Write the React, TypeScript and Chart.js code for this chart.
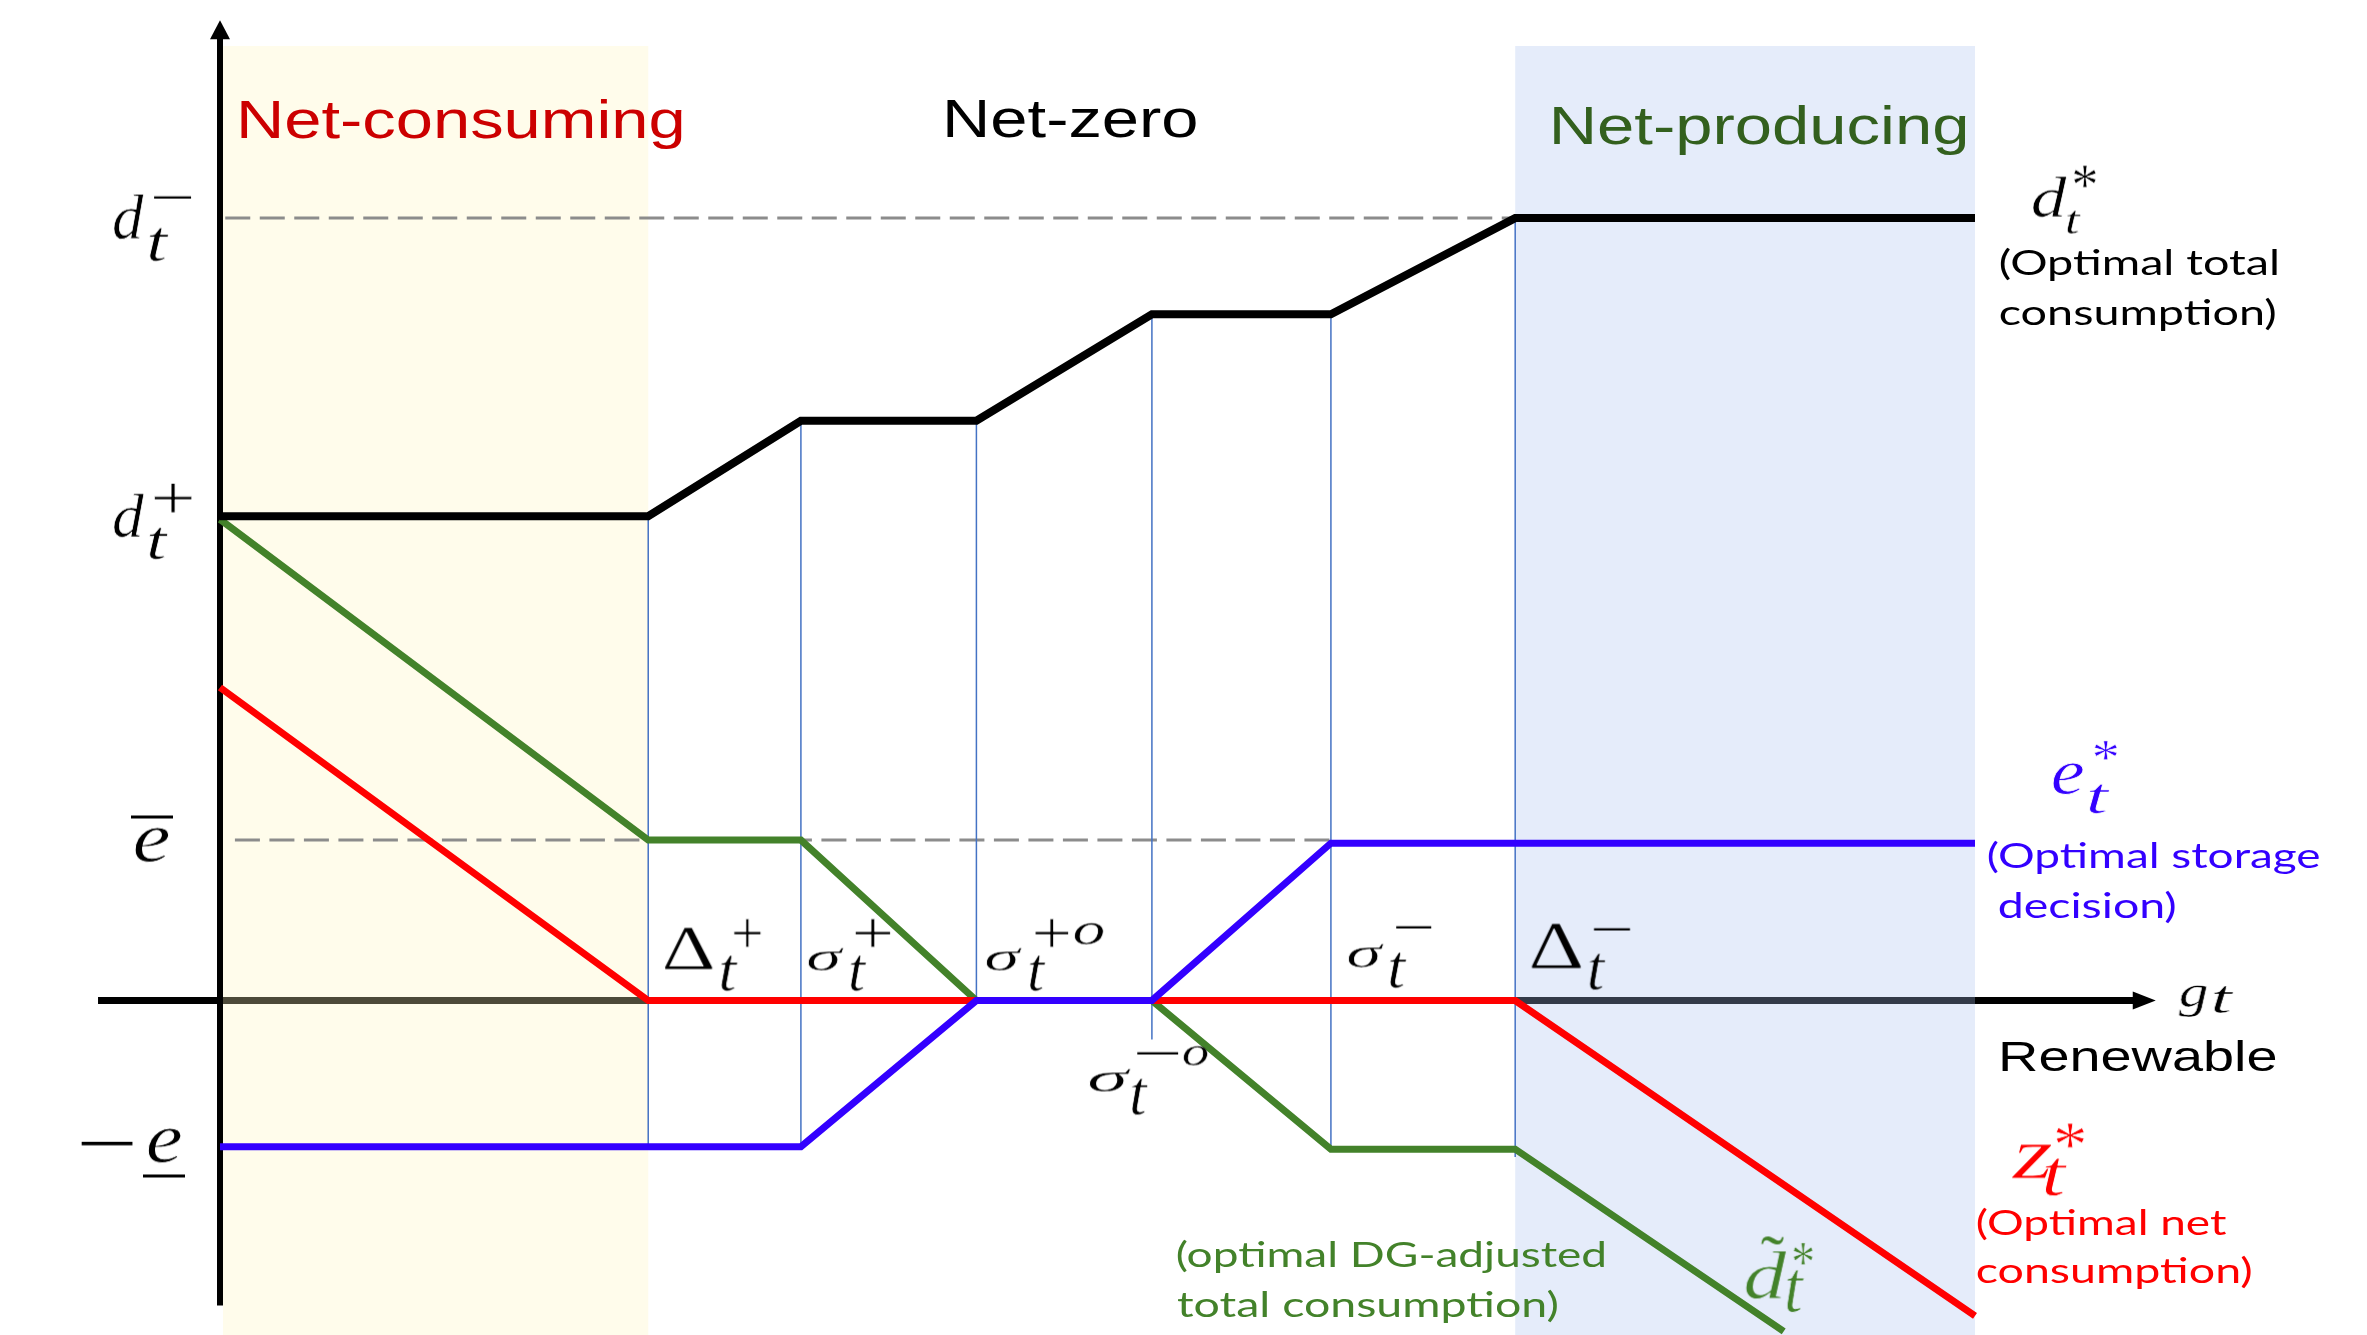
import { useEffect, useRef } from 'react';
import { Chart, registerables } from 'chart.js';

Chart.register(...registerables);

const WIDTH = 2367;
const HEIGHT = 1335;

// Renewable output g_t at each regime threshold
const renewable = [0, 24.4, 33.1, 43.1, 53.1, 63.3, 73.8, 100];
// d_t^*: optimal total consumption
const totalConsumption = [61.9, 61.9, 74.1, 74.1, 87.7, 87.7, 100, 100];
// e_t^*: optimal storage decision
const storageDecision = [-18.7, -18.7, -18.7, 0, 0, 20.1, 20.1, 20.1];
// z_t^*: optimal net consumption
const netConsumption = [40, 0, 0, 0, 0, 0, 0, -40.3];
// d~_t^*: optimal DG-adjusted total consumption (leaves the frame at the bottom)
const dgRenewable = [0, 24.4, 33.1, 43.1, 53.1, 63.3, 73.8, 89.1];
const dgAdjusted = [61.5, 20.5, 20.5, 0, 0, -19, -19, -42.3];

// Consumption and storage bounds
const D_MINUS = 100;
const D_PLUS = 61.9;
const E_BAR = 20.5;
const E_UNDER = -18.7;

// Threshold drop lines: Δ+, σ+, σ+o, σ-o, σ-, Δ-
const thresholdX = [24.4, 33.1, 43.1, 53.1, 63.3, 73.8];
const thresholdTop = [61.9, 74.1, 74.1, 87.7, 87.7, 100];
const thresholdBottom = [-18.9, -18.9, 0, -5, -19.1, -20];

// Dashed bound lines, [from, to] along g_t
const dMinusSpan = [0.3, 73.8];
const eBarSpan = [0.85, 63.3];

// Shaded regimes, [from, to] along g_t
const consumingSpan = [0.17, 24.4];
const producingSpan = [73.8, 100];

const X_RANGE = [0, 100];
const Y_RANGE = [-42.5, 122];
const X_AXIS_SPAN = [-6.95, 110.3];
const Y_AXIS_SPAN = [-39, 125.3];

const BLACK = '#000000';
const RED = '#FF0000';
const BLUE = '#3300FF';
const GREEN = '#43822A';
const GUIDE = '#4472C4';
const DASH = '#8C8C8C';
const TITLE_RED = '#CC0000';
const TITLE_GREEN = '#33601E';

const MATH = '"Liberation Serif", "DejaVu Serif", serif';
const SANS = '"Liberation Sans", Arial, sans-serif';
const HUMAN = 'Lato, "Open Sans", sans-serif';

type Glyph =
  | { t: string; f: 'i' | 'r'; box: number[]; size?: number }
  | { bar: number[] };
type TextLine = { t: string; left: number; base: number; width: number; size: number; fam: string };
type Label = { x: number; y: number; color: string; glyphs?: Glyph[]; lines?: TextLine[] };

// Bound labels on the vertical axis
const axisLabels: Label[] = [
  {
    x: 0, y: D_MINUS, color: BLACK, glyphs: [
      { t: 'd', f: 'i', box: [-108, -25, -75, 20] },
      { t: 't', f: 'i', box: [-72, 9, -50, 42] },
      { t: '−', f: 'r', size: 46, box: [-67, -21, -27, -21] },
    ],
  },
  {
    x: 0, y: D_PLUS, color: BLACK, glyphs: [
      { t: 'd', f: 'i', box: [-108, -23, -75, 21] },
      { t: 't', f: 'i', box: [-72, 11, -50, 43] },
      { t: '+', f: 'r', box: [-67, -34, -27, -3] },
    ],
  },
  {
    x: 0, y: E_BAR, color: BLACK, glyphs: [
      { t: 'e', f: 'i', box: [-86, -13, -50, 22] },
      { bar: [-89, -24.6, -47, -21.6] },
    ],
  },
  {
    x: 0, y: E_UNDER, color: BLACK, glyphs: [
      { t: '−', f: 'r', size: 70, box: [-140, -3, -85, -3] },
      { t: 'e', f: 'i', box: [-73, -19, -38, 16] },
      { bar: [-77, 27.7, -35, 30.7] },
    ],
  },
];

// Threshold names along the g_t axis
const thresholdLabels: Label[] = [
  {
    x: thresholdX[0], y: 0, color: BLACK, glyphs: [
      { t: 'Δ', f: 'r', box: [15, -73.5, 66, -30.5] },
      { t: 't', f: 'i', box: [71, -45.5, 91, -9.5] },
      { t: '+', f: 'r', box: [84, -82.5, 114, -53.5] },
    ],
  },
  {
    x: thresholdX[1], y: 0, color: BLACK, glyphs: [
      { t: 'σ', f: 'i', box: [6, -53.5, 44, -30.5] },
      { t: 't', f: 'i', box: [48, -45.5, 67, -9.5] },
      { t: '+', f: 'r', box: [52, -82.5, 91, -53.5] },
    ],
  },
  {
    x: thresholdX[2], y: 0, color: BLACK, glyphs: [
      { t: 'σ', f: 'i', box: [8.6, -53.5, 46.6, -30.5] },
      { t: 't', f: 'i', box: [51.6, -45.5, 70.6, -9.5] },
      { t: '+', f: 'r', box: [56.6, -82.5, 93.6, -53.5] },
      { t: 'o', f: 'i', box: [96.6, -78.5, 128.6, -55.5] },
    ],
  },
  {
    x: thresholdX[3], y: 0, color: BLACK, glyphs: [
      { t: 'σ', f: 'i', box: [-63.9, 67.5, -19.9, 90.5] },
      { t: 't', f: 'i', box: [-21.9, 77.5, -2.9, 114.5] },
      { t: '−', f: 'r', size: 46, box: [-15.9, 52.5, 28.1, 52.5] },
      { t: 'o', f: 'i', box: [30.1, 44.5, 57.1, 65.5] },
    ],
  },
  {
    x: thresholdX[4], y: 0, color: BLACK, glyphs: [
      { t: 'σ', f: 'i', box: [16.1, -57.5, 54.1, -33.5] },
      { t: 't', f: 'i', box: [57.1, -48.5, 77.1, -12.5] },
      { t: '−', f: 'r', size: 46, box: [64.1, -73.5, 102.1, -73.5] },
    ],
  },
  {
    x: thresholdX[5], y: 0, color: BLACK, glyphs: [
      { t: 'Δ', f: 'r', box: [14.5, -77.5, 67.5, -32.5] },
      { t: 't', f: 'i', box: [72.5, -47.5, 91.5, -10.5] },
      { t: '−', f: 'r', size: 46, box: [77.5, -71.5, 116.5, -71.5] },
    ],
  },
];

const last = (a: number[]) => a[a.length - 1];

// Series names next to the curves, the axis name and the regime titles
const seriesLabels: Label[] = [
  {
    x: last(renewable), y: last(totalConsumption), color: BLACK,
    glyphs: [
      { t: 'd', f: 'i', box: [56, -42, 93, -1] },
      { t: 't', f: 'i', box: [90, -8, 108, 16] },
      { t: '*', f: 'r', box: [97, -53, 122, -30] },
    ],
    lines: [
      { t: '(Optimal total', left: 25, base: 57, width: 277, size: 35, fam: HUMAN },
      { t: 'consumption)', left: 25, base: 107, width: 275, size: 35, fam: HUMAN },
    ],
  },
  {
    x: last(renewable), y: last(storageDecision), color: BLUE,
    glyphs: [
      { t: 'e', f: 'i', box: [76, -80.8, 110, -48.8] },
      { t: 't', f: 'i', box: [113, -59.8, 137, -29.8] },
      { t: '*', f: 'r', box: [118, -102.8, 144, -82.8] },
    ],
    lines: [
      { t: '(Optimal storage', left: 13, base: 25.2, width: 332, size: 35, fam: HUMAN },
      { t: 'decision)', left: 24, base: 75.2, width: 176, size: 35, fam: HUMAN },
    ],
  },
  {
    x: last(renewable), y: last(netConsumption), color: RED,
    glyphs: [
      { t: 'z', f: 'i', box: [35, -172, 78, -137] },
      { t: 't', f: 'i', box: [68, -158, 94, -120] },
      { t: '*', f: 'r', box: [80, -193, 111, -168] },
    ],
    lines: [
      { t: '(Optimal net', left: 2, base: -80.8, width: 250, size: 35, fam: HUMAN },
      { t: 'consumption)', left: 2, base: -32.8, width: 274, size: 35, fam: HUMAN },
    ],
  },
  {
    x: last(dgRenewable), y: last(dgAdjusted), color: GREEN,
    glyphs: [
      { t: 'd', f: 'i', box: [-39, -81.5, 4, -33.5] },
      { t: '˜', f: 'r', size: 64, box: [-24, -91, 1, -91] },
      { t: 't', f: 'i', box: [2, -62, 22, -18.5] },
      { t: '*', f: 'r', box: [8, -89, 30, -66] },
    ],
    lines: [
      { t: '(optimal DG-adjusted', left: -606.7, base: -64.5, width: 428, size: 35, fam: HUMAN },
      { t: 'total consumption)', left: -606.7, base: -14.5, width: 380, size: 35, fam: HUMAN },
    ],
  },
  {
    x: X_AXIS_SPAN[1], y: 0, color: BLACK,
    glyphs: [
      { t: 'g', f: 'i', box: [22, -16, 53, 17] },
      { t: 't', f: 'i', box: [57, -15, 80, 13] },
    ],
    lines: [{ t: 'Renewable', left: -153.8, base: 70.5, width: 273, size: 43, fam: SANS }],
  },
  {
    x: consumingSpan[0], y: Y_RANGE[1], color: TITLE_RED,
    lines: [{ t: 'Net-consuming', left: 18, base: 92, width: 441, size: 54, fam: SANS }],
  },
  {
    x: consumingSpan[1], y: Y_RANGE[1], color: BLACK,
    lines: [{ t: 'Net-zero', left: 298.8, base: 91, width: 249, size: 54, fam: SANS }],
  },
  {
    x: producingSpan[0], y: Y_RANGE[1], color: TITLE_GREEN,
    lines: [{ t: 'Net-producing', left: 38.5, base: 98, width: 412, size: 54, fam: SANS }],
  },
];

// Math glyphs are fitted into their boxes, then thinned a little so the
// serif face reads closer to a light math font.
function drawGlyph(ctx: CanvasRenderingContext2D, g: Glyph, ax: number, ay: number) {
  if ('bar' in g) {
    const [l, t, r, b] = g.bar;
    ctx.fillRect(ax + l, ay + t, r - l, b - t);
    return;
  }
  const [l0, t0, r0, b0] = g.box;
  const l = l0 + 1;
  const r = r0 - 1;
  const t = g.size == null ? t0 + 0.5 : t0;
  const b = g.size == null ? b0 - 0.5 : b0;
  const style = g.f === 'i' ? 'italic ' : '';
  let size = g.size ?? 100;
  const setFont = (c: CanvasRenderingContext2D) => {
    c.font = `${style}${size.toFixed(2)}px ${MATH}`;
    c.textAlign = 'left';
    c.textBaseline = 'alphabetic';
  };
  setFont(ctx);
  let m = ctx.measureText(g.t);
  if (g.size == null) {
    size = (size * (b - t)) / (m.actualBoundingBoxAscent + m.actualBoundingBoxDescent);
    setFont(ctx);
    m = ctx.measureText(g.t);
  }
  const inkW = m.actualBoundingBoxLeft + m.actualBoundingBoxRight;
  const inkH = m.actualBoundingBoxAscent + m.actualBoundingBoxDescent;
  const top = g.size == null ? t : (t + b) / 2 - inkH / 2;
  const sx = (r - l) / inkW;

  const pad = 8;
  const off = document.createElement('canvas');
  off.width = Math.ceil(r - l + 2 * pad);
  off.height = Math.ceil(inkH + 2 * pad);
  const o = off.getContext('2d') as CanvasRenderingContext2D;
  setFont(o);
  o.fillStyle = ctx.fillStyle;
  o.translate(pad, pad);
  o.scale(sx, 1);
  o.fillText(g.t, m.actualBoundingBoxLeft, m.actualBoundingBoxAscent);
  const thin = g.size == null ? Math.min(1.0, size * 0.012) : 0;
  if (thin > 0.3) {
    o.globalCompositeOperation = 'destination-out';
    o.lineJoin = 'round';
    o.lineWidth = thin;
    o.strokeStyle = '#000';
    o.strokeText(g.t, m.actualBoundingBoxLeft, m.actualBoundingBoxAscent);
  }
  ctx.drawImage(off, ax + l - pad, ay + top - pad);
}

function drawTextLine(ctx: CanvasRenderingContext2D, s: TextLine, ax: number, ay: number) {
  ctx.textAlign = 'left';
  ctx.textBaseline = 'alphabetic';
  ctx.font = `${s.size}px ${s.fam}`;
  const m = ctx.measureText(s.t);
  const inkW = m.actualBoundingBoxLeft + m.actualBoundingBoxRight;
  ctx.save();
  ctx.translate(ax + s.left, ay + s.base);
  ctx.scale(s.width / inkW, 1);
  ctx.fillText(s.t, m.actualBoundingBoxLeft, 0);
  ctx.restore();
}

// Axes with arrow heads, then the translucent regime shading on top of them
const backdropPlugin = {
  id: 'backdrop',
  beforeDatasetsDraw(chart: any) {
    const { ctx } = chart;
    const X = (v: number) => chart.scales.x.getPixelForValue(v);
    const Y = (v: number) => chart.scales.y.getPixelForValue(v);
    ctx.save();
    ctx.strokeStyle = BLACK;
    ctx.fillStyle = BLACK;

    const y0 = Y(0);
    const xTip = X(X_AXIS_SPAN[1]);
    ctx.lineWidth = 7;
    ctx.beginPath();
    ctx.moveTo(X(X_AXIS_SPAN[0]), y0);
    ctx.lineTo(xTip - 18, y0);
    ctx.stroke();
    ctx.beginPath();
    ctx.moveTo(xTip, y0);
    ctx.lineTo(xTip - 23, y0 - 9);
    ctx.lineTo(xTip - 23, y0 + 9);
    ctx.closePath();
    ctx.fill();

    const x0 = X(0);
    const yTip = Y(Y_AXIS_SPAN[1]);
    ctx.lineWidth = 6;
    ctx.beginPath();
    ctx.moveTo(x0, Y(Y_AXIS_SPAN[0]));
    ctx.lineTo(x0, yTip + 14);
    ctx.stroke();
    ctx.beginPath();
    ctx.moveTo(x0, yTip);
    ctx.lineTo(x0 - 10, yTip + 19);
    ctx.lineTo(x0 + 10, yTip + 19);
    ctx.closePath();
    ctx.fill();

    const top = Y(Y_RANGE[1]);
    ctx.fillStyle = 'rgba(255, 245, 190, 0.3)';
    ctx.fillRect(X(consumingSpan[0]), top, X(consumingSpan[1]) - X(consumingSpan[0]), chart.height - top);
    ctx.fillStyle = 'rgba(170, 193, 240, 0.3)';
    ctx.fillRect(X(producingSpan[0]), top, X(producingSpan[1]) - X(producingSpan[0]), chart.height - top);
    ctx.restore();
  },
};

const labelPlugin = {
  id: 'labels',
  afterDatasetsDraw(chart: any) {
    const { ctx } = chart;
    const X = (v: number) => chart.scales.x.getPixelForValue(v);
    const Y = (v: number) => chart.scales.y.getPixelForValue(v);
    for (const lab of [...axisLabels, ...thresholdLabels, ...seriesLabels]) {
      const ax = X(lab.x);
      const ay = Y(lab.y);
      ctx.save();
      ctx.fillStyle = lab.color;
      for (const g of lab.glyphs ?? []) drawGlyph(ctx, g, ax, ay);
      for (const s of lab.lines ?? []) drawTextLine(ctx, s, ax, ay);
      ctx.restore();
    }
  },
};

const pts = (xs: number[], ys: number[]) => xs.map((x, i) => ({ x, y: ys[i] }));

function line(label: string, xs: number[], ys: number[], color: string, width: number, order: number, dash: number[] = []) {
  return {
    label,
    data: pts(xs, ys),
    borderColor: color,
    borderWidth: width,
    borderDash: dash,
    order,
    pointRadius: 0,
    pointHoverRadius: 0,
    fill: false,
    tension: 0,
    clip: false as const,
    borderJoinStyle: 'miter' as const,
    borderCapStyle: 'butt' as const,
  };
}

export default function App() {
  const ref = useRef<HTMLCanvasElement>(null);

  useEffect(() => {
    const canvas = ref.current;
    if (!canvas) return;
    const guides = thresholdX.map((x, i) =>
      line(`threshold ${i}`, [x, x], [thresholdTop[i], thresholdBottom[i]], GUIDE, 1.5, 10),
    );
    const chart = new Chart(canvas, {
      type: 'line',
      data: {
        datasets: [
          line('d*', renewable, totalConsumption, BLACK, 8, 0),
          line('e*', renewable, storageDecision, BLUE, 7, 1),
          line('z*', renewable, netConsumption, RED, 7, 2),
          line('d~*', dgRenewable, dgAdjusted, GREEN, 7, 3),
          ...guides,
          line('d-', dMinusSpan, [D_MINUS, D_MINUS], DASH, 3, 11, [25, 9.5]),
          line('e-bar', eBarSpan, [E_BAR, E_BAR], DASH, 3, 11, [25, 9.5]),
        ],
      },
      options: {
        animation: false,
        responsive: false,
        devicePixelRatio: 1,
        layout: { padding: { left: 220, right: WIDTH - 1975, top: 46, bottom: HEIGHT - 1333 } },
        scales: {
          x: { type: 'linear', min: X_RANGE[0], max: X_RANGE[1], display: false },
          y: { type: 'linear', min: Y_RANGE[0], max: Y_RANGE[1], display: false },
        },
        plugins: { legend: { display: false }, tooltip: { enabled: false } },
        events: [],
      },
      plugins: [backdropPlugin, labelPlugin],
    } as any);
    return () => chart.destroy();
  }, []);

  return (
    <div style={{ position: 'fixed', left: 0, top: 0, width: WIDTH, height: HEIGHT, background: '#ffffff' }}>
      <canvas ref={ref} width={WIDTH} height={HEIGHT} style={{ display: 'block' }} />
    </div>
  );
}
